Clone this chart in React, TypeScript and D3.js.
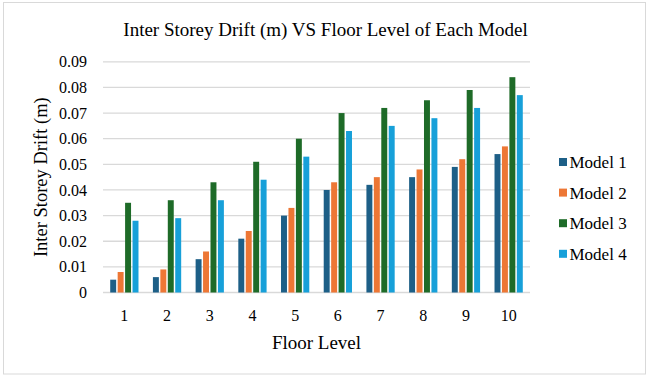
import React from "react";
import * as d3 from "d3";

const floors = ["1", "2", "3", "4", "5", "6", "7", "8", "9", "10"];
const seriesNames = ["Model 1", "Model 2", "Model 3", "Model 4"];
const model1 = [0.005, 0.006, 0.013, 0.021, 0.030, 0.040, 0.042, 0.045, 0.049, 0.054];
const model2 = [0.008, 0.009, 0.016, 0.024, 0.033, 0.043, 0.045, 0.048, 0.052, 0.057];
const model3 = [0.035, 0.036, 0.043, 0.051, 0.060, 0.070, 0.072, 0.075, 0.079, 0.084];
const model4 = [0.028, 0.029, 0.036, 0.044, 0.053, 0.063, 0.065, 0.068, 0.072, 0.077];
const yTicks = [0, 0.01, 0.02, 0.03, 0.04, 0.05, 0.06, 0.07, 0.08, 0.09];
const colors = ["#1d5f87", "#ed7735", "#1e6b28", "#17a0d9"];

const W = 646;
const H = 376;
const plot = { left: 103, right: 530, top: 61.8, bottom: 292.5 };
const FONT = "Liberation Serif";

const txt = (size: number) => ({ fontFamily: FONT, fontSize: `${size}px` });

export default function App() {
  const series = [model1, model2, model3, model4];
  const x = d3.scaleBand<string>().domain(floors).range([plot.left, plot.right]).padding(0);
  const inner = d3
    .scaleBand<string>()
    .domain(seriesNames)
    .range([0, x.bandwidth()])
    .paddingInner(0.2)
    .paddingOuter(0.97);
  const y = d3.scaleLinear().domain([0, 0.09]).range([plot.bottom, plot.top]);
  const fmt = (v: number) => (v === 0 ? "0" : d3.format(".2f")(v));

  return (
    <svg width={W} height={H} style={{ position: "absolute", left: 0, top: 0, background: "#fff" }}>
      <rect x={3.5} y={2.5} width={W - 4} height={H - 4.5} fill="#fff" stroke="#d9d9d9" />
      <text x={325.5} y={36} textAnchor="middle" style={txt(19)} fill="#000">
        Inter Storey Drift (m) VS Floor Level of Each Model
      </text>

      {yTicks.map((t) => (
        <g key={t}>
          <line x1={plot.left} x2={plot.right} y1={y(t)} y2={y(t)} stroke="#d9d9d9" strokeWidth={1.3} />
          <text x={87} y={y(t)} dy="0.35em" textAnchor="end" style={txt(16)} fill="#000">
            {fmt(t)}
          </text>
        </g>
      ))}

      {series.map((vals, si) =>
        vals.map((v, i) => (
          <rect
            key={`${si}-${i}`}
            x={(x(floors[i]) as number) + (inner(seriesNames[si]) as number)}
            y={y(v)}
            width={inner.bandwidth()}
            height={plot.bottom - y(v)}
            fill={colors[si]}
          />
        ))
      )}

      {floors.map((f) => (
        <text
          key={f}
          x={(x(f) as number) + x.bandwidth() / 2}
          y={321}
          textAnchor="middle"
          style={txt(16)}
          fill="#000"
        >
          {f}
        </text>
      ))}

      <text x={(plot.left + plot.right) / 2} y={349} textAnchor="middle" style={txt(19)} fill="#000">
        Floor Level
      </text>
      <text
        transform={`translate(47, ${(plot.top + plot.bottom) / 2}) rotate(-90)`}
        textAnchor="middle"
        style={txt(18.5)}
        fill="#000"
      >
        Inter Storey Drift (m)
      </text>

      {seriesNames.map((name, si) => {
        const cy = 162 + si * 30.6;
        return (
          <g key={name}>
            <rect x={559} y={cy - 4} width={8} height={8} fill={colors[si]} />
            <text x={569.5} y={cy} dy="0.35em" style={txt(17)} fill="#000">
              {name}
            </text>
          </g>
        );
      })}
    </svg>
  );
}
